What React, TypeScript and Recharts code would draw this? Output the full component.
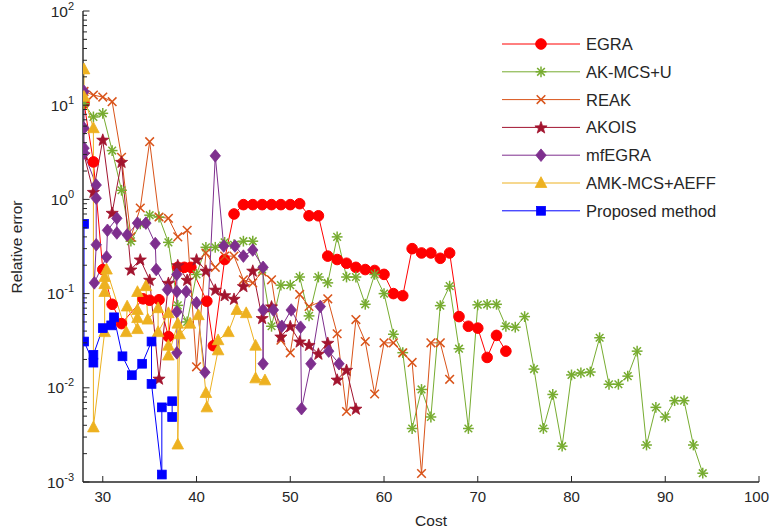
import React from 'react';
import { LineChart, Line, XAxis, YAxis, Legend } from 'recharts';

// ---------------- data ----------------
const egraCost = [28, 29, 30, 31, 32, 34.3, 35, 36, 37, 38, 38.7, 39.4, 41.1, 41.8, 43, 44, 45, 46, 47, 48, 49, 50, 51, 52, 53, 54, 55, 56, 57, 58, 59, 60, 61, 62, 63, 64, 65, 66, 67, 68, 69, 70, 71, 72, 73];
const egraError = [10.5, 2.5, 0.18, 0.077, 0.048, 0.088, 0.085, 0.086, 0.035, 0.19, 0.19, 0.19, 0.083, 0.028, 0.23, 0.7, 0.88, 0.88, 0.88, 0.88, 0.88, 0.88, 0.9, 0.67, 0.67, 0.25, 0.23, 0.21, 0.19, 0.18, 0.176, 0.16, 0.1, 0.095, 0.3, 0.27, 0.27, 0.237, 0.27, 0.057, 0.045, 0.043, 0.021, 0.036, 0.0245];

const akCost = [28, 29, 30, 31, 32, 33, 34, 35, 36, 37, 38, 39, 40, 41, 42, 43, 44, 45, 46, 47, 48, 49, 50, 51, 52, 53, 54, 55, 56, 57, 58, 59, 60, 61, 62, 63, 64, 65, 66, 67, 68, 69, 70, 71, 72, 73, 74, 75, 76, 77, 78, 79, 80, 81, 82, 83, 84, 85, 86, 87, 88, 89, 90, 91, 92, 93, 94];
const akError = [10.4, 7.5, 8.2, 3.3, 1.25, 0.36, 0.55, 0.68, 0.65, 0.35, 0.075, 0.05, 0.16, 0.31, 0.31, 0.35, 0.33, 0.36, 0.36, 0.18, 0.045, 0.123, 0.123, 0.15, 0.058, 0.15, 0.13, 0.4, 0.15, 0.15, 0.077, 0.16, 0.1, 0.037, 0.0236, 0.0037, 0.0096, 0.0049, 0.0745, 0.12, 0.026, 0.0037, 0.076, 0.077, 0.077, 0.045, 0.044, 0.057, 0.0158, 0.0037, 0.0085, 0.0024, 0.0137, 0.0144, 0.0147, 0.034, 0.0109, 0.0109, 0.0133, 0.0245, 0.00247, 0.0062, 0.0049, 0.0073, 0.0073, 0.00247, 0.00124];

const reakCost = [28, 29, 30, 31, 32, 33, 34, 35, 36, 37, 38, 39, 40, 41, 42, 43, 44, 45, 46, 47, 48, 49, 50, 51, 52, 54, 55, 56, 57, 58, 59, 60, 61, 62, 63, 64, 65, 66, 67];
const reakError = [14, 12.8, 12.2, 10.9, 2.8, 0.4, 0.81, 4.1, 0.65, 0.63, 0.4, 0.47, 0.0167, 0.27, 0.19, 0.25, 0.25, 0.14, 0.13, 0.17, 0.14, 0.032, 0.0235, 0.098, 0.073, 0.088, 0.0375, 0.0056, 0.053, 0.031, 0.0086, 0.03, 0.03, 0.0235, 0.0186, 0.00123, 0.03, 0.03, 0.0123];

const akoisCost = [28, 29, 30, 31, 32, 33, 34, 35, 36, 37, 38, 39, 40, 41, 42, 43, 44, 45, 46, 47, 48, 49, 50, 51, 52, 53, 54, 55, 56, 57];
const akoisError = [3.0, 1.2, 4.3, 0.72, 2.5, 0.18, 0.23, 0.14, 0.0125, 0.13, 0.2, 0.14, 0.23, 0.175, 0.11, 0.096, 0.088, 0.12, 0.175, 0.055, 0.073, 0.035, 0.045, 0.031, 0.0285, 0.023, 0.03, 0.0122, 0.0155, 0.006];

const mfCost = [28, 28, 28, 28, 29.3, 29.3, 29.3, 29.1, 30.4, 30.5, 31.5, 31.5, 32.6, 33.7, 34.6, 35.6, 35.7, 36.9, 37.9, 37.9, 37.9, 37.9, 38.9, 40, 40.9, 42, 42.9, 44.1, 45, 46, 47.1, 47.1, 47.1, 48.2, 49.1, 50.1, 51.1, 51.2, 52.2, 53.2, 54.1, 55.2];
const mfError = [14, 5.7, 3.5, 3.1, 1.42, 1.03, 0.33, 0.13, 0.245, 0.47, 0.63, 0.44, 0.42, 0.56, 0.56, 0.34, 0.18, 0.11, 0.16, 0.105, 0.064, 0.0235, 0.105, 0.08, 0.0146, 2.9, 0.32, 0.32, 0.25, 0.29, 0.19, 0.018, 0.067, 0.067, 0.045, 0.067, 0.044, 0.006, 0.018, 0.073, 0.0245, 0.018];

const amkCost = [28, 28, 29, 29, 30.2, 30.2, 30.2, 30.2, 30.4, 32.5, 32.6, 33.7, 33.7, 33.7, 33.7, 34.6, 34.8, 35.9, 35.9, 37, 37, 37, 38, 38, 38.2, 39.3, 40.2, 41, 41.1, 42.3, 42.3, 43.4, 44.3, 45.3, 46.3, 46.3, 47.3];
const amkError = [24, 12.3, 5.7, 0.0038, 0.039, 0.104, 0.126, 0.15, 0.18, 0.039, 0.073, 0.042, 0.055, 0.067, 0.104, 0.12, 0.053, 0.07, 0.039, 0.062, 0.028, 0.022, 0.048, 0.0025, 0.037, 0.048, 0.059, 0.0088, 0.0062, 0.025, 0.032, 0.039, 0.067, 0.062, 0.028, 0.0126, 0.012];

const propCost = [28, 28, 29, 29, 30, 30.9, 31.2, 32.1, 33.1, 34.2, 35.2, 35.2, 36.3, 36.3, 37.4, 37.4];
const propError = [0.55, 0.031, 0.0185, 0.0224, 0.043, 0.046, 0.056, 0.0216, 0.0136, 0.018, 0.031, 0.011, 0.0012, 0.0062, 0.0072, 0.0049];

const xTicks = [30, 40, 50, 60, 70, 80, 90, 100];
const yMajorTicks = [0.001, 0.01, 0.1, 1, 10, 100];
const yMinorTicks: number[] = [];
for (let k = -3; k <= 1; k++) {
  for (let m = 2; m <= 9; m++) yMinorTicks.push(+(m * Math.pow(10, k)).toPrecision(3));
}
const yTicks = [...yMajorTicks, ...yMinorTicks].sort((a, b) => a - b);

const zip = (c: number[], e: number[]) => c.map((x, i) => ({ cost: x, err: e[i] }));

// ---------------- styles ----------------
const FONT = '"Liberation Sans", Arial, Helvetica, sans-serif';
const AXIS = '#262626';

type MarkerFn = (cx: number, cy: number, c: string, key?: any) => React.ReactElement;

const starPoints = (cx: number, cy: number, ro: number, ri: number) => {
  const pts: string[] = [];
  for (let i = 0; i < 10; i++) {
    const r = i % 2 === 0 ? ro : ri;
    const a = -Math.PI / 2 + (i * Math.PI) / 5;
    pts.push(`${cx + r * Math.cos(a)},${cy + r * Math.sin(a)}`);
  }
  return pts.join(' ');
};

const markers: Record<string, MarkerFn> = {
  circle: (cx, cy, c, key) => <circle key={key} cx={cx} cy={cy} r={5.3} fill={c} stroke={c} strokeWidth={1} />,
  asterisk: (cx, cy, c, key) => {
    const r = 5.4;
    const d = r * 0.7071;
    return (
      <g key={key} stroke={c} strokeWidth={1.5}>
        <line x1={cx - r} y1={cy} x2={cx + r} y2={cy} />
        <line x1={cx} y1={cy - r} x2={cx} y2={cy + r} />
        <line x1={cx - d} y1={cy - d} x2={cx + d} y2={cy + d} />
        <line x1={cx - d} y1={cy + d} x2={cx + d} y2={cy - d} />
      </g>
    );
  },
  cross: (cx, cy, c, key) => {
    const r = 4.3;
    return (
      <g key={key} stroke={c} strokeWidth={1.5}>
        <line x1={cx - r} y1={cy - r} x2={cx + r} y2={cy + r} />
        <line x1={cx - r} y1={cy + r} x2={cx + r} y2={cy - r} />
      </g>
    );
  },
  star: (cx, cy, c, key) => <polygon key={key} points={starPoints(cx, cy + 0.5, 6.4, 2.6)} fill={c} stroke={c} strokeWidth={0.8} />,
  diamond: (cx, cy, c, key) => (
    <polygon key={key} points={`${cx},${cy - 6.3} ${cx + 5.2},${cy} ${cx},${cy + 6.3} ${cx - 5.2},${cy}`} fill={c} stroke={c} strokeWidth={0.8} />
  ),
  triangle: (cx, cy, c, key) => (
    <polygon key={key} points={`${cx},${cy - 6.3} ${cx + 5.8},${cy + 4.5} ${cx - 5.8},${cy + 4.5}`} fill={c} stroke={c} strokeWidth={0.8} />
  ),
  square: (cx, cy, c, key) => <rect key={key} x={cx - 4.4} y={cy - 4.4} width={8.8} height={8.8} fill={c} stroke={c} strokeWidth={0.8} />,
};

const series = [
  { name: 'EGRA', color: '#FF0000', marker: 'circle', data: zip(egraCost, egraError) },
  { name: 'AK-MCS+U', color: '#77AC30', marker: 'asterisk', data: zip(akCost, akError) },
  { name: 'REAK', color: '#D95319', marker: 'cross', data: zip(reakCost, reakError) },
  { name: 'AKOIS', color: '#A2142F', marker: 'star', data: zip(akoisCost, akoisError) },
  { name: 'mfEGRA', color: '#7E2F8E', marker: 'diamond', data: zip(mfCost, mfError) },
  { name: 'AMK-MCS+AEFF', color: '#EDB120', marker: 'triangle', data: zip(amkCost, amkError) },
  { name: 'Proposed method', color: '#0000FF', marker: 'square', data: zip(propCost, propError) },
];

// ---------------- ticks ----------------
const isMajor = (v: number) => Math.abs(Math.log10(v) - Math.round(Math.log10(v))) < 1e-6;

const BottomTick = (p: any) => {
  const v = p.payload.value;
  const tx = v === 100 ? p.x - 2.5 : p.x;
  return (
    <g>
      <line x1={p.x} x2={p.x} y1={p.y} y2={p.y - 6} stroke={AXIS} strokeWidth={1} />
      <text x={tx} y={p.y + 20} textAnchor="middle" fontSize={15} fill={AXIS} fontFamily={FONT}>
        {v}
      </text>
    </g>
  );
};
const TopTick = (p: any) => <line x1={p.x} x2={p.x} y1={p.y} y2={p.y + 6} stroke={AXIS} strokeWidth={1} />;

const LeftTick = (p: any) => {
  const v = p.payload.value;
  const major = isMajor(v);
  const e = Math.round(Math.log10(v));
  return (
    <g>
      <line x1={p.x} x2={p.x + (major ? 6.5 : 4)} y1={p.y} y2={p.y} stroke={AXIS} strokeWidth={1} />
      {major && (
        <text x={p.x - 9} y={p.y + 5.5} textAnchor="end" fontSize={15.5} fill={AXIS} fontFamily={FONT}>
          10
          <tspan dy={-7} fontSize={11}>
            {String(e)}
          </tspan>
        </text>
      )}
    </g>
  );
};
const RightTick = (p: any) => {
  const major = isMajor(p.payload.value);
  return <line x1={p.x} x2={p.x - (major ? 6.5 : 4)} y1={p.y} y2={p.y} stroke={AXIS} strokeWidth={1} />;
};

// ---------------- legend ----------------
const LegendBox = () => (
  <svg width={260} height={200} style={{ display: 'block' }}>
    {series.map((s, i) => {
      const y = 14 + i * 27.8;
      return (
        <g key={s.name}>
          <line x1={7} x2={85} y1={y} y2={y} stroke={s.color} strokeWidth={1} />
          {markers[s.marker](46, y, s.color)}
          <text x={91} y={y + 6} fontSize={16.5} fill={AXIS} fontFamily={FONT}>
            {s.name}
          </text>
        </g>
      );
    })}
  </svg>
);

export default function App() {
  return (
    <div style={{ position: 'absolute', left: 0, top: 0, width: 770, height: 532, background: '#fff' }}>
      <LineChart width={770} height={532} margin={{ top: 11, right: 11, bottom: 0, left: 0 }}>
        <XAxis
          xAxisId="bottom"
          type="number"
          dataKey="cost"
          domain={[27.89, 100]}
          allowDataOverflow
          ticks={xTicks}
          interval={0}
          tick={(p: any) => <BottomTick {...p} />}
          tickLine={false}
          tickSize={0}
          tickMargin={0}
          height={50}
          axisLine={{ stroke: AXIS, strokeWidth: 1.4 }}
          label={() => (
            <text x={431} y={526} textAnchor="middle" fontSize={15.5} fill={AXIS} fontFamily={FONT}>
              Cost
            </text>
          )}
        />
        <XAxis
          xAxisId="top"
          orientation="top"
          type="number"
          dataKey="cost"
          domain={[27.89, 100]}
          allowDataOverflow
          ticks={xTicks}
          interval={0}
          tick={(p: any) => <TopTick {...p} />}
          tickLine={false}
          tickSize={0}
          tickMargin={0}
          height={0}
          axisLine={{ stroke: AXIS, strokeWidth: 1.4 }}
        />
        <YAxis
          yAxisId="left"
          type="number"
          scale="log"
          domain={[0.001, 100]}
          allowDataOverflow
          ticks={yTicks}
          interval={0}
          tick={(p: any) => <LeftTick {...p} />}
          tickLine={false}
          tickSize={0}
          tickMargin={0}
          width={83}
          axisLine={{ stroke: AXIS, strokeWidth: 1.4 }}
          label={() => (
            <text x={22} y={247} transform="rotate(-90 22 247)" textAnchor="middle" fontSize={15.5} fill={AXIS} fontFamily={FONT}>
              Relative error
            </text>
          )}
        />
        <YAxis
          yAxisId="right"
          orientation="right"
          type="number"
          scale="log"
          domain={[0.001, 100]}
          allowDataOverflow
          ticks={yTicks}
          interval={0}
          tick={(p: any) => <RightTick {...p} />}
          tickLine={false}
          tickSize={0}
          tickMargin={0}
          width={0}
          axisLine={{ stroke: AXIS, strokeWidth: 1.4 }}
        />
        {series.map((s) => (
          <Line
            key={s.name}
            xAxisId="bottom"
            yAxisId="left"
            data={s.data}
            dataKey="err"
            name={s.name}
            stroke={s.color}
            strokeWidth={1}
            isAnimationActive={false}
            activeDot={false}
            dot={(p: any) => markers[s.marker](p.cx, p.cy, s.color, `${s.name}-${p.index}`)}
          />
        ))}
        <Legend
          layout="vertical"
          align="center"
          verticalAlign="middle"
          wrapperStyle={{ left: 495, top: 30, width: 260, height: 200 }}
          content={() => <LegendBox />}
        />
      </LineChart>
    </div>
  );
}
